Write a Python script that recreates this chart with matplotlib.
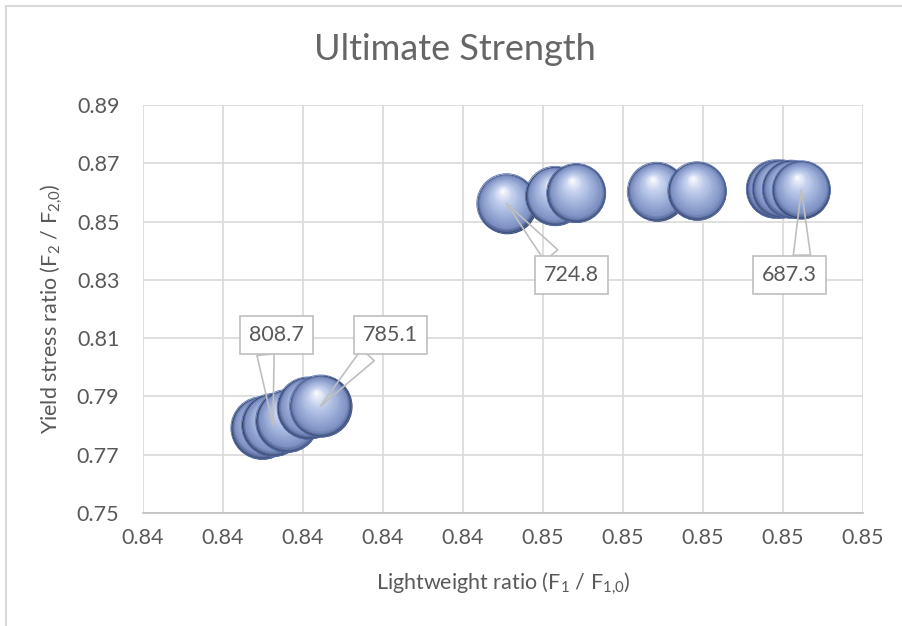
import numpy as np
import matplotlib
matplotlib.use("Agg")
import matplotlib.pyplot as plt
from matplotlib.transforms import ScaledTranslation
from matplotlib.colors import LinearSegmentedColormap
from matplotlib.patches import Rectangle

# ---------------- data ----------------
lightweight_ratio = [0.83898, 0.83925, 0.83960, 0.84013, 0.84044,
                     0.84509, 0.84630, 0.84683,
                     0.84884, 0.84985,
                     0.85181, 0.85196, 0.85221, 0.85246]
yield_stress_ratio = [0.7792, 0.7802, 0.7816, 0.7860, 0.7867,
                      0.8562, 0.8588, 0.8598,
                      0.8603, 0.8605,
                      0.8612, 0.8612, 0.8611, 0.8609]
ultimate_strength = [800.0, 808.7, 803.0, 790.0, 785.1,
                     724.8, 716.0, 710.0,
                     700.0, 696.0,
                     692.0, 690.0, 689.0, 687.3]
labelled_points = [1, 4, 5, 13]

x_ticks = [0.836, 0.838, 0.840, 0.842, 0.844, 0.846, 0.848, 0.850, 0.852, 0.854]
y_ticks = [0.75, 0.77, 0.79, 0.81, 0.83, 0.85, 0.87, 0.89]

title = "Ultimate Strength"
x_title = "Lightweight ratio (F$_{1}$ / F$_{1{,}0}$)"
y_title = "Yield stress ratio (F$_{2}$ / F$_{2{,}0}$)"

# ---------------- style ----------------
plt.rcParams['font.family'] = ['Lato', 'DejaVu Sans']
plt.rcParams['mathtext.default'] = 'regular'
TEXT = '#595959'
GRID = '#D9D9D9'
FS = 15.5

W, H = 902, 626
fig = plt.figure(figsize=(W / 100, H / 100), dpi=100)
fig.patch.set_facecolor('white')

L, R_, T, B = 143, 863, 105, 513
ax = fig.add_axes([L / W, 1 - B / H, (R_ - L) / W, (B - T) / H])
ax.set_xlim(x_ticks[0], x_ticks[-1])
ax.set_ylim(y_ticks[0], y_ticks[-1])
ax.set_xticks(x_ticks)
ax.set_yticks(y_ticks)
ax.set_xticklabels([f"{v:.2f}" for v in x_ticks])
ax.set_yticklabels([f"{v:.2f}" for v in y_ticks])
ax.tick_params(length=0, labelsize=FS, colors=TEXT)
ax.tick_params(axis='x', pad=11)
ax.tick_params(axis='y', pad=17)
ax.grid(True, color=GRID, lw=1.2)
ax.set_axisbelow(True)
for s in ['top', 'right', 'left']:
    ax.spines[s].set_visible(False)
ax.spines['bottom'].set_color('#BFBFBF')
ax.spines['bottom'].set_linewidth(1.2)

# outer chart border (only top/left visible)
fig.add_artist(Rectangle((6 / W, -0.2), 1.2, (1 - 6 / H) + 0.2, transform=fig.transFigure,
                         fill=False, ec=GRID, lw=1.5, clip_on=False))

# ---------------- spheres ----------------
cmap = LinearSegmentedColormap.from_list('sph', [
    (0.0, '#34405E'), (0.04, '#56699A'), (0.12, '#7D90C2'),
    (0.40, '#9FB0DA'), (0.70, '#C5D1EE'), (1.0, '#FFFFFF')])

D_ref = 63 * 0.72  # diameter in points for the value v_ref
v_ref = 808.7
N = 40
for xi, yi, vi in zip(lightweight_ratio, yield_stress_ratio, ultimate_strength):
    Rp = D_ref * np.sqrt(vi / v_ref) / 2.0
    hx, hy = -0.15 * Rp, 0.45 * Rp
    for k in range(N):
        t = k / N
        r = Rp * (1 - t)
        tr = ax.transData + ScaledTranslation(t * hx / 72, t * hy / 72, fig.dpi_scale_trans)
        ax.scatter([xi], [yi], s=(2 * r) ** 2, color=cmap(t), linewidths=0,
                   transform=tr, zorder=3)
    ax.scatter([xi], [yi], s=(2 * Rp) ** 2, facecolors='none', edgecolors='#5773B3',
               linewidths=0.6, zorder=3)

# ---------------- callouts ----------------
offsets = {1: (2.2, 64.8), 4: (50.0, 51.0), 5: (46.4, -51.5), 13: (-8.3, -61.2)}
relpos = {1: (0.29, 0.0), 4: (0.26, 0.0), 5: (0.29, 1.0), 13: (0.72, 1.0)}
for i in labelled_points:
    ax.annotate(f"{ultimate_strength[i]:.1f}", xy=(lightweight_ratio[i], yield_stress_ratio[i]),
                xytext=offsets[i], textcoords='offset points', ha='center', va='center',
                fontsize=FS, color=TEXT, zorder=5,
                bbox=dict(boxstyle='square,pad=0.42', fc='white', ec='#BFBFBF', lw=1.2),
                arrowprops=dict(arrowstyle='wedge,tail_width=0.8,shrink_factor=0.5',
                                fc='none', ec='#BFBFBF', lw=1.2, relpos=relpos[i],
                                shrinkA=0, shrinkB=0))

# ---------------- titles ----------------
fig.text(455 / W, 1 - 50 / H, title, ha='center', va='center', fontsize=26,
         color='#666666')
fig.text(503 / W, 1 - 584 / H, x_title, ha='center', va='center', fontsize=FS, color=TEXT)
fig.text(52 / W, 1 - 309 / H, y_title, ha='center', va='center', fontsize=FS,
         color=TEXT, rotation=90)

fig.savefig('out.png', dpi=100)
